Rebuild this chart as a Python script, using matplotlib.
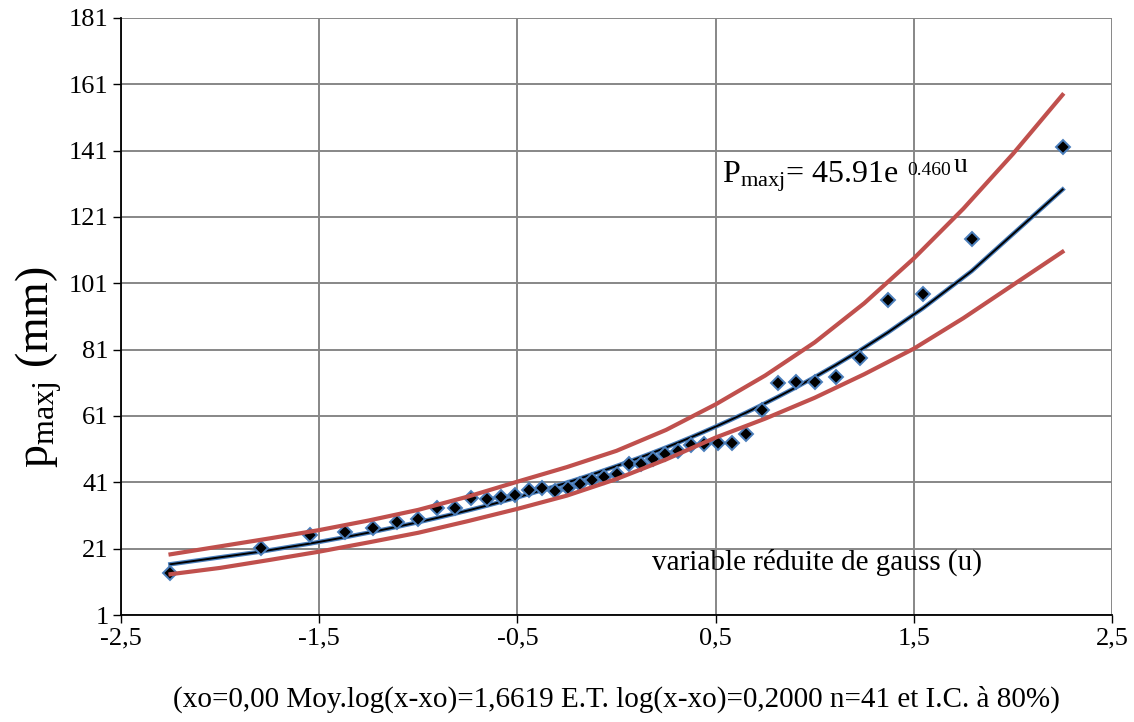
import matplotlib
matplotlib.use("Agg")
import matplotlib.pyplot as plt
import numpy as np

# gauss reduced variable (u) and observed daily max rainfall (mm)
u_obs = [-2.251, -1.792, -1.546, -1.370, -1.227, -1.107, -1.000, -0.904, -0.816, -0.733,
         -0.655, -0.582, -0.510, -0.442, -0.375, -0.311, -0.247, -0.184, -0.123, -0.061,
         0.000, 0.061, 0.123, 0.184, 0.247, 0.311, 0.375, 0.442, 0.510, 0.582,
         0.655, 0.733, 0.816, 0.904, 1.000, 1.107, 1.227, 1.370, 1.546, 1.792, 2.251]
p_obs = [13.8, 21.1, 25.1, 26.0, 27.3, 29.1, 29.8, 33.2, 33.2, 36.4,
         36.0, 36.7, 37.2, 38.7, 39.3, 38.5, 39.4, 40.5, 41.7, 42.5,
         43.4, 46.4, 46.5, 47.9, 49.5, 50.3, 52.3, 52.6, 52.8, 52.8,
         55.5, 62.8, 70.9, 71.3, 71.2, 72.8, 78.4, 96.0, 97.7, 114.3, 142.2]

# 80% confidence bounds
u_band = [-2.25, -2.0, -1.75, -1.5, -1.25, -1.0, -0.75, -0.5, -0.25, 0.0, 0.25,
          0.5, 0.75, 1.0, 1.25, 1.5, 1.75, 2.0, 2.25]
p_upper = [19.3, 21.7, 24.1, 26.6, 29.5, 32.7, 36.7, 41.2, 45.6, 50.5, 56.8,
           64.5, 73.2, 83.2, 95.0, 108.5, 123.5, 140.0, 157.8]
p_lower = [13.3, 15.2, 17.6, 20.1, 22.9, 25.8, 29.3, 33.0, 37.0, 42.0, 47.9,
           54.5, 60.2, 66.5, 73.6, 81.3, 90.5, 100.5, 110.5]

# fitted law shown on the chart: P = 45.91 e^(0.460 u)
coef_a = 45.91
coef_b = 0.460

x_ticks = [-2.5, -1.5, -0.5, 0.5, 1.5, 2.5]
x_labels = ["-2,5", "-1,5", "-0,5", "0,5", "1,5", "2,5"]
y_ticks = [1, 21, 41, 61, 81, 101, 121, 141, 161, 181]

plt.rcParams['font.family'] = ['Liberation Serif', 'DejaVu Serif']
plt.rcParams['mathtext.fontset'] = 'custom'
plt.rcParams['mathtext.rm'] = 'Liberation Serif'
plt.rcParams['mathtext.it'] = 'Liberation Serif:italic'

W, H = 1134, 722
fig = plt.figure(figsize=(W / 100, H / 100), dpi=100)
ax = fig.add_axes([121 / W, 1 - 615 / H, (1112 - 121) / W, (615 - 18) / H])

u_fit = np.array(u_obs)
p_fit = coef_a * np.exp(coef_b * u_fit)

ax.plot(u_fit, p_fit, color='#4a7ebb', lw=3.2, zorder=3)
ax.plot(u_fit, p_fit, color='black', lw=1.4, zorder=4)
ax.plot(u_obs, p_obs, 'D', ms=7, mfc='black', mec='#4a7ebb', mew=1.4, zorder=5,
        linestyle='none')
ax.plot(u_band, p_upper, color='#c0504d', lw=3.0, zorder=6)
ax.plot(u_band, p_lower, color='#c0504d', lw=3.0, zorder=6)

ax.set_xlim(-2.5, 2.5)
ax.set_ylim(1, 181)
ax.set_xticks(x_ticks)
ax.set_xticklabels(x_labels)
ax.set_yticks(y_ticks)
ax.tick_params(axis='both', labelsize=19, length=6, width=1, direction='out', colors='black')
ax.tick_params(axis='x', pad=3)
ax.tick_params(axis='y', pad=3)
ax.grid(True, color='#878787', lw=1.4)
ax.set_axisbelow(True)
for s in ['top', 'right']:
    ax.spines[s].set_visible(False)
for s in ['left', 'bottom']:
    ax.spines[s].set_linewidth(1.3)

ax.set_ylabel(r"p$_{\mathrm{maxj}}$ (mm)", fontsize=33)
ax.yaxis.set_label_coords(-0.058, 0.415)
ax.set_xlabel("(xo=0,00 Moy.log(x-xo)=1,6619 E.T. log(x-xo)=0,2000 n=41 et I.C. à 80%)",
              fontsize=21, labelpad=26)

# trend line equation, pieced together like the original label
fig.text(722 / W, 1 - 183 / H, r"P$_{\mathrm{maxj}}$= 45.91e", fontsize=23, ha='left', va='baseline')
fig.text(907 / W, 1 - 175 / H, "0.460", fontsize=14, ha='left', va='baseline')
fig.text(954 / W, 1 - 172 / H, "u", fontsize=20, ha='left', va='baseline')

ax.text(0.177, 14.6, "variable réduite de gauss (u)", fontsize=21, ha='left', va='baseline')

fig.savefig("out.png", dpi=100)
